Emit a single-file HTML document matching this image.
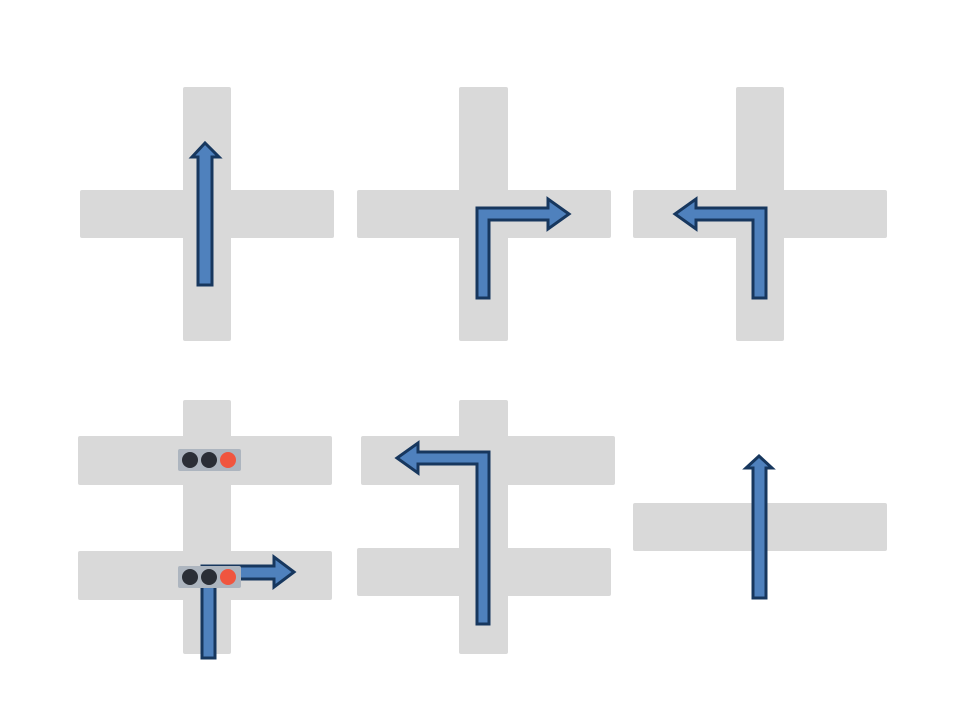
<!DOCTYPE html>
<html><head><meta charset="utf-8"><style>html,body{margin:0;padding:0;background:#fff}svg{display:block}</style></head>
<body>
<svg width="960" height="720" viewBox="0 0 960 720" xmlns="http://www.w3.org/2000/svg">
<g fill="#d9d9d9">
<!-- panel 1 -->
<rect x="183" y="87" width="48" height="254" rx="2"/>
<rect x="80" y="190" width="254" height="48" rx="2"/>
<!-- panel 2 -->
<rect x="459" y="87" width="49" height="254" rx="2"/>
<rect x="357" y="190" width="254" height="48" rx="2"/>
<!-- panel 3 -->
<rect x="736" y="87" width="48" height="254" rx="2"/>
<rect x="633" y="190" width="254" height="48" rx="2"/>
<!-- panel 4 -->
<rect x="183" y="400" width="48" height="254" rx="2"/>
<rect x="78" y="436" width="254" height="49" rx="2"/>
<rect x="78" y="551" width="254" height="49" rx="2"/>
<!-- panel 5 -->
<rect x="459" y="400" width="49" height="254" rx="2"/>
<rect x="361" y="436" width="254" height="49" rx="2"/>
<rect x="357" y="548" width="254" height="48" rx="2"/>
<!-- panel 6 -->
<rect x="633" y="503" width="254" height="48" rx="2"/>
</g>
<g fill="#4f81bd" stroke="#17375e" stroke-width="3" stroke-linejoin="miter">
<!-- arrow 1 -->
<path d="M198,285 V157 H192 L205,143 L219,157 H212 V285 Z"/>
<!-- arrow 2 -->
<path d="M477,298 V208 H548 V199 L569,214 L548,229 V220 H489 V298 Z"/>
<!-- arrow 3 -->
<path d="M766,298 V208 H696 V199 L675,214 L696,229 V220 H753 V298 Z"/>
<!-- arrow 4 -->
<path d="M202,658 V566 H274 V557 L294,572 L274,587 V579 H215 V658 Z"/>
<!-- arrow 5 -->
<path d="M489,624 V452 H418 V443 L397,458 L418,473 V464 H477 V624 Z"/>
<!-- arrow 6 -->
<path d="M753,598 V468 H746 L759,456 L772,468 H766 V598 Z"/>
</g>
<!-- traffic lights -->
<g>
<rect x="178" y="449" width="63" height="22" rx="2" fill="#adb5bf"/>
<circle cx="190" cy="460" r="8" fill="#2a2e36"/>
<circle cx="209" cy="460" r="8" fill="#2a2e36"/>
<circle cx="228" cy="460" r="8" fill="#f0553f"/>
<rect x="178" y="566" width="63" height="22" rx="2" fill="#adb5bf"/>
<circle cx="190" cy="577" r="8" fill="#2a2e36"/>
<circle cx="209" cy="577" r="8" fill="#2a2e36"/>
<circle cx="228" cy="577" r="8" fill="#f0553f"/>
</g>
</svg>
</body></html>
